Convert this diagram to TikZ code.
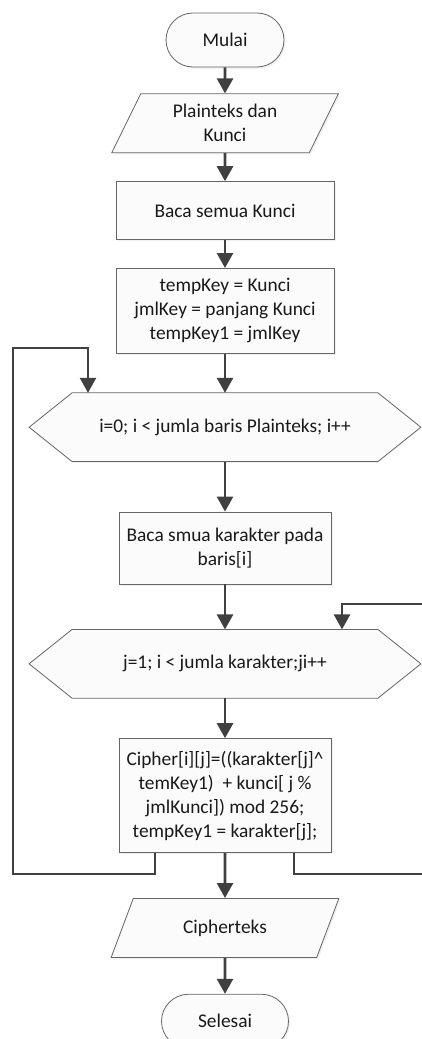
\documentclass[tikz,border=0pt]{standalone}
\usepackage{fontspec}
\setmainfont{Carlito}
\usetikzlibrary{arrows.meta,positioning,shapes.geometric,shapes.misc,backgrounds,shadows}
\definecolor{lineclr}{HTML}{404040}
\definecolor{boxclr}{HTML}{FBFBFB}
\tikzset{
  base/.style={draw=black!60, thin, fill=boxclr, align=center, inner sep=3pt,
    font=\fontsize{9.7}{12}\selectfont, text=black!90,
    drop shadow={opacity=0.12, shadow xshift=0.8pt, shadow yshift=-0.8pt}},
  term/.style={base, rounded rectangle, minimum width=65pt, minimum height=27pt},
  io/.style={base, trapezium, trapezium left angle=68, trapezium right angle=112,
    trapezium stretches=true, minimum width=114pt, minimum height=29.5pt},
  proc/.style={base, rectangle, minimum width=109pt, minimum height=29pt},
  loopbox/.style={align=center, inner sep=0pt, font=\fontsize{9.7}{12}\selectfont,
    text=black!90, minimum width=152.5pt, minimum height=34pt},
  hexline/.style={draw=black!60, thin, fill=boxclr},
  arr/.style={-{Triangle[length=7.5pt,width=8pt]}, draw=lineclr, line width=1.3pt},
  ln/.style={draw=lineclr, line width=1.3pt}
}

\begin{document}
\begin{tikzpicture}
  \useasboundingbox (0,0) rectangle (211pt,-519.5pt);

  \node[term] (start) at (112.5pt,-20pt) {Mulai};
  \node[io, below=13pt of start] (input) {Plainteks dan\\Kunci};
  \node[proc, below=14pt of input] (readkey) {Baca semua Kunci};
  \node[proc, below=14pt of readkey, minimum height=42.5pt] (init)
    {tempKey = Kunci\\jmlKey = panjang Kunci\\tempKey1 = jmlKey};
  \node[loopbox, below=19.5pt of init] (loopi) {i=0; i < jumla baris Plainteks; i++};
  \node[proc, below=25pt of loopi, minimum width=106pt, minimum height=36pt] (readrow)
    {Baca smua karakter pada\\baris[i]};
  \node[loopbox, below=22.5pt of readrow] (loopj) {j=1; i < jumla karakter;ji++};
  \node[proc, below=20pt of loopj, minimum width=106pt, minimum height=57pt] (calc)
    {Cipher[i][j]=((karakter[j]\textasciicircum\\temKey1)~ + kunci[ j \%\\jmlKunci]) mod 256;\\tempKey1 = karakter[j];};
  \node[io, below=22.5pt of calc] (output) {Cipherteks};
  \node[term, below=18pt of output, minimum width=69.5pt] (stop) {Selesai};

  % hexagon outlines for the two loops
  \begin{scope}[on background layer]
    \foreach \h in {loopi,loopj}
      \draw[hexline] (\h.north west) -- (\h.north east) -- ([xshift=21.5pt]\h.east)
        -- (\h.south east) -- (\h.south west) -- ([xshift=-21.5pt]\h.west) -- cycle;
  \end{scope}

  \coordinate (lcorner) at (6.5pt,-174pt);
  \coordinate (rcorner) at (213pt,-302pt);

  \draw[arr] (start) -- (input);
  \draw[arr] (input) -- (readkey);
  \draw[arr] (readkey) -- (init);
  \draw[arr] (init) -- (loopi);
  \draw[arr] (loopi) -- (readrow);
  \draw[arr] (readrow) -- (loopj);
  \draw[arr] (loopj) -- (calc);
  \draw[arr] (calc) -- (output);
  \draw[arr] (output) -- (stop);

  % loop back edges
  \draw[arr] ([xshift=-35pt]calc.south) -- ++(0,-10.5pt) -| (lcorner)
    -| ([xshift=-68.5pt]loopi.north);
  \draw[arr] ([xshift=34.5pt]calc.south) -- ++(0,-10.5pt) -| (rcorner)
    -| ([xshift=58.5pt]loopj.north);
\end{tikzpicture}
\end{document}
